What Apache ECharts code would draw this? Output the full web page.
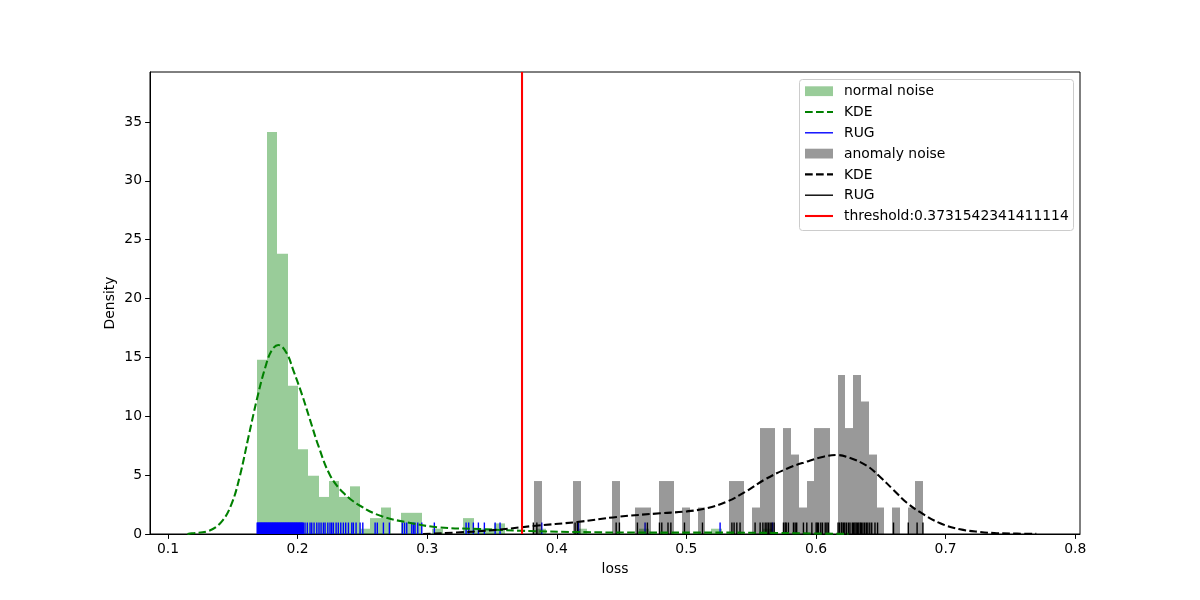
<!DOCTYPE html>
<html>
<head>
<meta charset="utf-8">
<script src="https://cdn.jsdelivr.net/npm/echarts@6/dist/echarts.min.js"></script>
<style>html,body{margin:0;padding:0;background:#fff;}#chart{width:1200px;height:600px;}</style>
</head>
<body>
<div id="chart"></div>
<script>
// ---------- data ----------
const xTicks = [0.1, 0.2, 0.3, 0.4, 0.5, 0.6, 0.7, 0.8];
const yTicks = [0, 5, 10, 15, 20, 25, 30, 35];
const threshold = 0.3731542341411114;

// normal noise histogram (50 bins)
const normalBinStart = 0.1685;
const normalBinWidth = 0.00797;
const normalDensity = [
  14.8, 34.15, 23.8, 12.6, 7.2, 4.95, 3.15, 4.5, 3.15, 4.05,
  0.45, 1.35, 2.25, 0, 1.8, 1.8, 0, 0.45, 0, 0,
  1.35, 0.45, 0.45, 0.9, 0, 0, 0, 0.45, 0, 0,
  0, 0.45, 0, 0, 0, 0, 0, 0.45, 0, 0,
  0, 0, 0, 0, 0.45, 0, 0, 0, 0, 0.45
];

// anomaly noise histogram (50 bins)
const anomalyBinStart = 0.3827;
const anomalyBinWidth = 0.006;
const anomalyDensity = [
  4.5, 0, 0, 0, 0, 4.5, 0, 0, 0, 0,
  4.5, 0, 0, 2.25, 2.25, 0, 4.5, 4.5, 0, 2.25,
  0, 2.25, 0, 0, 0, 4.5, 4.5, 0, 2.25, 9.0,
  9.0, 0, 9.0, 6.75, 2.25, 4.5, 9.0, 9.0, 0, 13.5,
  9.0, 13.5, 11.25, 6.75, 2.25, 0, 2.25, 0, 2.25, 4.5
];

// KDE curves [x, density]
const normalKDE = [
  [0.115, 0.0], [0.1183, 0.06], [0.1311, 0.25], [0.1414, 1.05], [0.1492, 2.6],
  [0.1556, 5.0], [0.1620, 8.2], [0.1685, 11.4], [0.1749, 14.1], [0.1800, 15.6],
  [0.1851, 16.06], [0.1916, 15.35], [0.1967, 13.9], [0.2032, 11.9], [0.2096, 9.7],
  [0.2160, 7.5], [0.2250, 5.0], [0.2353, 3.5], [0.2482, 2.4], [0.2650, 1.5],
  [0.2842, 1.0], [0.3076, 0.58], [0.3408, 0.42], [0.3717, 0.28], [0.418, 0.16],
  [0.47, 0.12], [0.52, 0.12], [0.57, 0.09], [0.60, 0.04], [0.625, 0.01]
];
const anomalyKDE = [
  [0.2968, 0.0], [0.3354, 0.2], [0.3562, 0.38], [0.3817, 0.68], [0.4157, 1.02],
  [0.4463, 1.45], [0.4797, 1.76], [0.5003, 1.92], [0.5158, 2.2], [0.5312, 2.75],
  [0.5450, 3.55], [0.5600, 4.6], [0.5775, 5.55], [0.5929, 6.15], [0.6058, 6.57],
  [0.6161, 6.71], [0.6264, 6.45], [0.6392, 5.8], [0.6495, 4.85], [0.6598, 3.74],
  [0.6701, 2.65], [0.6804, 1.85], [0.6958, 0.91], [0.7112, 0.4], [0.7267, 0.17],
  [0.7396, 0.07], [0.755, 0.03], [0.770, 0.01]
];

// rug positions
const normalRug = [
  0.1688, 0.1693, 0.1698, 0.1703, 0.1708, 0.1713, 0.1718, 0.1723, 0.1728, 0.1733,
  0.1738, 0.1743, 0.1748, 0.1753, 0.1758, 0.1763, 0.1768, 0.1773, 0.1778, 0.1783,
  0.1788, 0.1793, 0.1798, 0.1803, 0.1808, 0.1813, 0.1818, 0.1823, 0.1828, 0.1833,
  0.1838, 0.1843, 0.1848, 0.1853, 0.1858, 0.1863, 0.1868, 0.1873, 0.1878, 0.1883,
  0.1888, 0.1893, 0.1898, 0.1903, 0.1908, 0.1913, 0.1918, 0.1923, 0.1928, 0.1933,
  0.1938, 0.1943, 0.1948, 0.1953, 0.1958, 0.1963, 0.1968, 0.1973, 0.1978, 0.1983,
  0.1988, 0.1993, 0.1998, 0.2003, 0.2008, 0.2013, 0.2018, 0.2023, 0.2028, 0.2033,
  0.2038, 0.2044, 0.2057, 0.2075, 0.2096, 0.2109, 0.2127, 0.2148, 0.2165, 0.2181,
  0.2199, 0.2212, 0.2233, 0.2250, 0.2263, 0.2276, 0.2297, 0.2314, 0.2333, 0.2353,
  0.2371, 0.2392, 0.2418, 0.2430, 0.2451, 0.2482, 0.2503, 0.2598, 0.2615, 0.2662,
  0.2708, 0.2808, 0.2825, 0.2842, 0.2881, 0.2895, 0.2906, 0.2927, 0.2958, 0.3055,
  0.3300, 0.3320, 0.3356, 0.3395, 0.3441, 0.3524, 0.3562, 0.3884, 0.4167, 0.4681,
  0.5260, 0.5665
];
const anomalyRug = [
  0.3819, 0.3846, 0.4141, 0.4159, 0.4458, 0.4483, 0.4622, 0.4699, 0.4792, 0.4810,
  0.4858, 0.4880, 0.4985, 0.5124, 0.5351, 0.5368, 0.5389, 0.5414, 0.5530, 0.5569,
  0.5590, 0.5608, 0.5621, 0.5633, 0.5646, 0.5659, 0.5677, 0.5749, 0.5762, 0.5770,
  0.5787, 0.5826, 0.5839, 0.5851, 0.5903, 0.5929, 0.5968, 0.6001, 0.6010, 0.6019,
  0.6037, 0.6050, 0.6071, 0.6084, 0.6095, 0.6170, 0.6180, 0.6195, 0.6200, 0.6212,
  0.6222, 0.6235, 0.6250, 0.6262, 0.6280, 0.6290, 0.6300, 0.6310, 0.6320, 0.6330,
  0.6342, 0.6350, 0.6362, 0.6375, 0.6388, 0.6400, 0.6415, 0.6430, 0.6455, 0.6475,
  0.6598, 0.6712, 0.6780, 0.6825
];

const legendLabels = ['normal noise', 'KDE', 'RUG', 'anomaly noise', 'KDE', 'RUG', 'threshold:0.3731542341411114'];

// ---------- build ----------
const FONT = 'DejaVu Sans';
const GREEN_FILL = 'rgba(0,128,0,0.4)';
const GREY_FILL = 'rgba(0,0,0,0.4)';
const LW = 2.08;           // 1.5pt at 100 dpi
const DASH = [7.7, 3.3];   // matplotlib dashed pattern scaled
const RUG_W = 1.39;        // 1pt

function histData(start, width, vals) {
  return vals.map((v, i) => [start + i * width, start + (i + 1) * width, v]);
}
function histSeries(name, data, color) {
  return {
    type: 'custom', name: name, data: data, encode: { x: [0, 1], y: 2 },
    renderItem: function (params, api) {
      const h = api.value(2);
      if (!h) return null;
      const p0 = api.coord([api.value(0), h]);
      const p1 = api.coord([api.value(1), 0]);
      const xa = Math.round(p0[0]), xb = Math.round(p1[0]);
      return { type: 'rect', shape: { x: xa, y: p0[1], width: xb - xa, height: p1[1] - p0[1] },
        style: { fill: color, stroke: null } };
    }
  };
}
function rugSeries(name, vals, color) {
  return {
    type: 'custom', name: name, data: vals.map(v => [v, 0]), encode: { x: 0, y: 1 },
    renderItem: function (params, api) {
      const p = api.coord([api.value(0), 0]);
      return { type: 'line', shape: { x1: p[0], y1: p[1], x2: p[0], y2: p[1] - 11.5 },
        style: { stroke: color, lineWidth: RUG_W } };
    }
  };
}
function kdeSeries(name, data, color) {
  return { type: 'line', name: name, data: data, symbol: 'none', smooth: 0.4,
    lineStyle: { color: color, width: LW, type: DASH } };
}

const rows = [91.2, 112, 132.8, 153.6, 174.4, 195.2, 216];
const legendChildren = [
  { type: 'rect', shape: { x: 799.5, y: 79.5, width: 274, height: 151, r: 3 },
    style: { fill: 'rgba(255,255,255,0.8)', stroke: '#cccccc', lineWidth: 1 } }
];
const handles = [
  { kind: 'patch', color: GREEN_FILL },
  { kind: 'line', color: '#008000', dash: DASH, w: LW },
  { kind: 'line', color: '#0000ff', w: RUG_W },
  { kind: 'patch', color: GREY_FILL },
  { kind: 'line', color: '#000000', dash: DASH, w: LW },
  { kind: 'line', color: '#000000', w: RUG_W },
  { kind: 'line', color: '#ff0000', w: LW }
];
handles.forEach((h, i) => {
  const y = rows[i];
  if (h.kind === 'patch') {
    legendChildren.push({ type: 'rect', shape: { x: 805, y: y - 4.9, width: 28, height: 9.8 }, style: { fill: h.color } });
  } else {
    legendChildren.push({ type: 'line', shape: { x1: 805, y1: y, x2: 833, y2: y },
      style: { stroke: h.color, lineWidth: h.w, lineDash: h.dash || null } });
  }
  legendChildren.push({ type: 'text', x: 844, y: y + 0.5,
    style: { text: legendLabels[i], fill: '#000', font: '13.9px "' + FONT + '"', verticalAlign: 'middle', align: 'left' } });
});

const chart = echarts.init(document.getElementById('chart'), null, { renderer: 'canvas' });
chart.setOption({
  animation: false,
  backgroundColor: '#ffffff',
  textStyle: { fontFamily: FONT },
  grid: { left: 150, right: 120, top: 72, bottom: 66, show: true, borderColor: '#000', borderWidth: 1, backgroundColor: 'transparent' },
  xAxis: {
    type: 'value', min: 0.0861, max: 0.8037,
    name: 'loss', nameLocation: 'middle', nameGap: 28, nameMoveOverlap: false,
    nameTextStyle: { color: '#000', fontSize: 13.9, fontFamily: FONT },
    axisLine: { show: true, onZero: false, lineStyle: { color: '#000', width: 1 } },
    axisTick: { show: true, inside: false, length: 4.9, lineStyle: { color: '#000', width: 1 }, customValues: xTicks },
    axisLabel: { color: '#000', fontSize: 13.9, fontFamily: FONT, margin: 8, customValues: xTicks,
      formatter: v => String(Math.round(v * 10) / 10) },
    splitLine: { show: false }
  },
  yAxis: {
    type: 'value', min: 0, max: 39.25,
    name: 'Density', nameLocation: 'middle', nameGap: 33, nameRotate: 90, nameMoveOverlap: false,
    nameTextStyle: { color: '#000', fontSize: 13.9, fontFamily: FONT },
    axisLine: { show: true, lineStyle: { color: '#000', width: 1 } },
    axisTick: { show: true, inside: false, length: 4.9, lineStyle: { color: '#000', width: 1 }, customValues: yTicks },
    axisLabel: { color: '#000', fontSize: 13.9, fontFamily: FONT, margin: 8, customValues: yTicks },
    splitLine: { show: false }
  },
  series: [
    histSeries('normal noise', histData(normalBinStart, normalBinWidth, normalDensity), GREEN_FILL),
    kdeSeries('KDE', normalKDE, '#008000'),
    rugSeries('RUG', normalRug, '#0000ff'),
    histSeries('anomaly noise', histData(anomalyBinStart, anomalyBinWidth, anomalyDensity), GREY_FILL),
    kdeSeries('KDE ', anomalyKDE, '#000000'),
    rugSeries('RUG ', anomalyRug, '#000000'),
    { type: 'line', name: 'threshold', data: [[threshold, 0], [threshold, 39.25]], symbol: 'none',
      lineStyle: { color: '#ff0000', width: LW } }
  ],
  graphic: [{ type: 'group', z: 100, children: legendChildren }]
});
</script>
</body>
</html>
